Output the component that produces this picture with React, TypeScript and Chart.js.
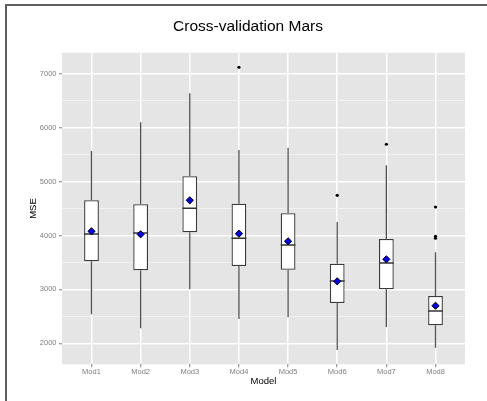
import React, { useEffect, useRef } from 'react';
import { Chart, registerables } from 'chart.js';

Chart.register(...registerables);

const categories = ['Mod1', 'Mod2', 'Mod3', 'Mod4', 'Mod5', 'Mod6', 'Mod7', 'Mod8'];
const lowerWhisker = [2538, 2278, 3001, 2451, 2482, 1876, 2302, 1918];
const q1Values = [3521, 3354, 4059, 3434, 3365, 2747, 3001, 2334];
const medianValues = [4027, 4046, 4504, 3947, 3823, 3155, 3489, 2599];
const q3Values = [4652, 4578, 5097, 4589, 4411, 3476, 3934, 2877];
const upperWhisker = [5566, 6099, 6637, 5585, 5628, 4250, 5301, 3688];
const meanValues = [4077, 4022, 4652, 4033, 3892, 3150, 3558, 2697];
const outlierValues: number[][] = [[], [], [], [7119], [], [4745], [5691], [4528, 3985, 3948]];
const yTickValues = [2000, 2500, 3000, 3500, 4000, 4500, 5000, 5500, 6000, 6500, 7000];
const yMajorStep = 1000;
const yMin = 1611;
const yMax = 7389;
const xMin = 0.4;
const xMax = 8.6;

const FONT = "'Liberation Sans', Arial, sans-serif";

const panelBackground = {
  id: 'panelBackground',
  beforeDraw(chart: any) {
    const { ctx, chartArea } = chart;
    if (!chartArea) return;
    ctx.save();
    ctx.fillStyle = '#E5E5E5';
    ctx.fillRect(chartArea.left, chartArea.top, chartArea.right - chartArea.left, chartArea.bottom - chartArea.top);
    ctx.restore();
  },
};

const isMajor = (v: number) => Math.abs(v % yMajorStep) < 1e-6;

export default function App() {
  const ref = useRef<HTMLCanvasElement>(null);

  useEffect(() => {
    const boxData = categories.map((_, i) => ({ x: i + 1, y: [q1Values[i], q3Values[i]] }));
    const whiskerData: any[] = [];
    categories.forEach((_, i) => {
      whiskerData.push({ x: i + 1, y: q3Values[i] });
      whiskerData.push({ x: i + 1, y: upperWhisker[i] });
      whiskerData.push({ x: i + 1, y: null });
      whiskerData.push({ x: i + 1, y: lowerWhisker[i] });
      whiskerData.push({ x: i + 1, y: q1Values[i] });
      whiskerData.push({ x: i + 1, y: null });
    });
    const medianData = categories.map((_, i) => ({ x: i + 1, y: medianValues[i] }));
    const meanData = categories.map((_, i) => ({ x: i + 1, y: meanValues[i] }));
    const outlierData: any[] = [];
    outlierValues.forEach((arr, i) => arr.forEach((v) => outlierData.push({ x: i + 1, y: v })));

    const chart = new Chart(ref.current as HTMLCanvasElement, {
      type: 'bar',
      data: {
        datasets: [
          {
            type: 'line',
            label: 'whiskers',
            data: whiskerData,
            borderColor: '#505050',
            borderWidth: 1.3,
            pointRadius: 0,
            spanGaps: false,
            order: 5,
          } as any,
          {
            type: 'bar',
            label: 'box',
            data: boxData,
            backgroundColor: '#FFFFFF',
            borderColor: '#3a3a3a',
            borderWidth: 1.3,
            borderSkipped: false,
            barPercentage: 0.3,
            categoryPercentage: 1,
            order: 4,
          } as any,
          {
            type: 'scatter',
            label: 'median',
            data: medianData,
            pointStyle: 'line',
            pointRadius: 7.4,
            pointBorderWidth: 1.6,
            pointBorderColor: '#333333',
            order: 3,
          } as any,
          {
            type: 'scatter',
            label: 'outliers',
            data: outlierData,
            pointRadius: 1.6,
            pointBackgroundColor: '#000000',
            pointBorderWidth: 0,
            order: 2,
          } as any,
          {
            type: 'scatter',
            label: 'mean',
            data: meanData,
            pointStyle: 'rectRot',
            pointRadius: 3.6,
            pointBackgroundColor: '#0000FF',
            pointBorderColor: '#000000',
            pointBorderWidth: 1,
            order: 1,
          } as any,
        ],
      },
      options: {
        responsive: false,
        devicePixelRatio: 1,
        animation: false,
        events: [],
        layout: { padding: { left: 31, right: 22, top: 0, bottom: 0 } },
        plugins: {
          legend: { display: false },
          tooltip: { enabled: false },
          title: {
            display: true,
            text: 'Cross-validation Mars',
            color: '#000000',
            font: { family: FONT, size: 15.5, weight: 'normal', lineHeight: 1.2 },
            padding: { top: 17.3, bottom: 16.8 },
          },
        },
        scales: {
          x: {
            type: 'linear',
            min: xMin,
            max: xMax,
            offset: false,
            border: { display: false },
            grid: {
              offset: false,
              color: '#FFFFFF',
              lineWidth: 1.5,
              drawTicks: true,
              tickLength: 3,
              tickColor: '#7F7F7F',
              tickWidth: 1,
            },
            afterBuildTicks: (axis: any) => {
              axis.ticks = categories.map((_, i) => ({ value: i + 1 }));
            },
            afterFit: (axis: any) => {
              axis.height = 36.7;
            },
            ticks: {
              autoSkip: false,
              maxRotation: 0,
              padding: 0.5,
              color: '#7F7F7F',
              font: { family: FONT, size: 7.5 },
              callback: (value: any) => categories[Math.round(Number(value)) - 1] ?? '',
            },
            title: {
              display: true,
              text: 'Model',
              color: '#000000',
              font: { family: FONT, size: 9.5, lineHeight: 1 },
              padding: { top: 0, bottom: 14.5 },
            },
          },
          y: {
            type: 'linear',
            min: yMin,
            max: yMax,
            beginAtZero: false,
            border: { display: false },
            grid: {
              color: (ctx: any) => (ctx.tick && isMajor(ctx.tick.value) ? '#FFFFFF' : '#F2F2F2'),
              lineWidth: (ctx: any) => (ctx.tick && isMajor(ctx.tick.value) ? 1.5 : 1),
              drawTicks: true,
              tickLength: 3,
              tickColor: (ctx: any) => (ctx.tick && isMajor(ctx.tick.value) ? '#7F7F7F' : 'rgba(0,0,0,0)'),
              tickWidth: 1,
            },
            afterBuildTicks: (axis: any) => {
              axis.ticks = yTickValues.map((v) => ({ value: v }));
            },
            afterFit: (axis: any) => {
              axis.width = 31;
            },
            ticks: {
              autoSkip: false,
              padding: 2.5,
              color: '#7F7F7F',
              font: { family: FONT, size: 7.5 },
              callback: (value: any) => (isMajor(Number(value)) ? String(value) : ''),
            },
            title: {
              display: true,
              text: 'MSE',
              color: '#000000',
              font: { family: FONT, size: 9.5, lineHeight: 0.57 },
              padding: { top: 0, bottom: 0 },
            },
          },
        },
      } as any,
      plugins: [panelBackground],
    });
    return () => chart.destroy();
  }, []);

  return (
    <div
      style={{
        position: 'fixed',
        left: 0,
        top: 0,
        width: 487,
        height: 401,
        background: '#FFFFFF',
        overflow: 'hidden',
      }}
    >
      <div
        style={{
          position: 'absolute',
          left: 5,
          top: 4,
          width: 520,
          height: 440,
          borderTop: '2px solid #5f5f5f',
          borderLeft: '2px solid #5f5f5f',
        }}
      />
      <canvas
        ref={ref}
        width={487}
        height={401}
        style={{ position: 'absolute', left: 0, top: 0, width: 487, height: 401 }}
      />
    </div>
  );
}
